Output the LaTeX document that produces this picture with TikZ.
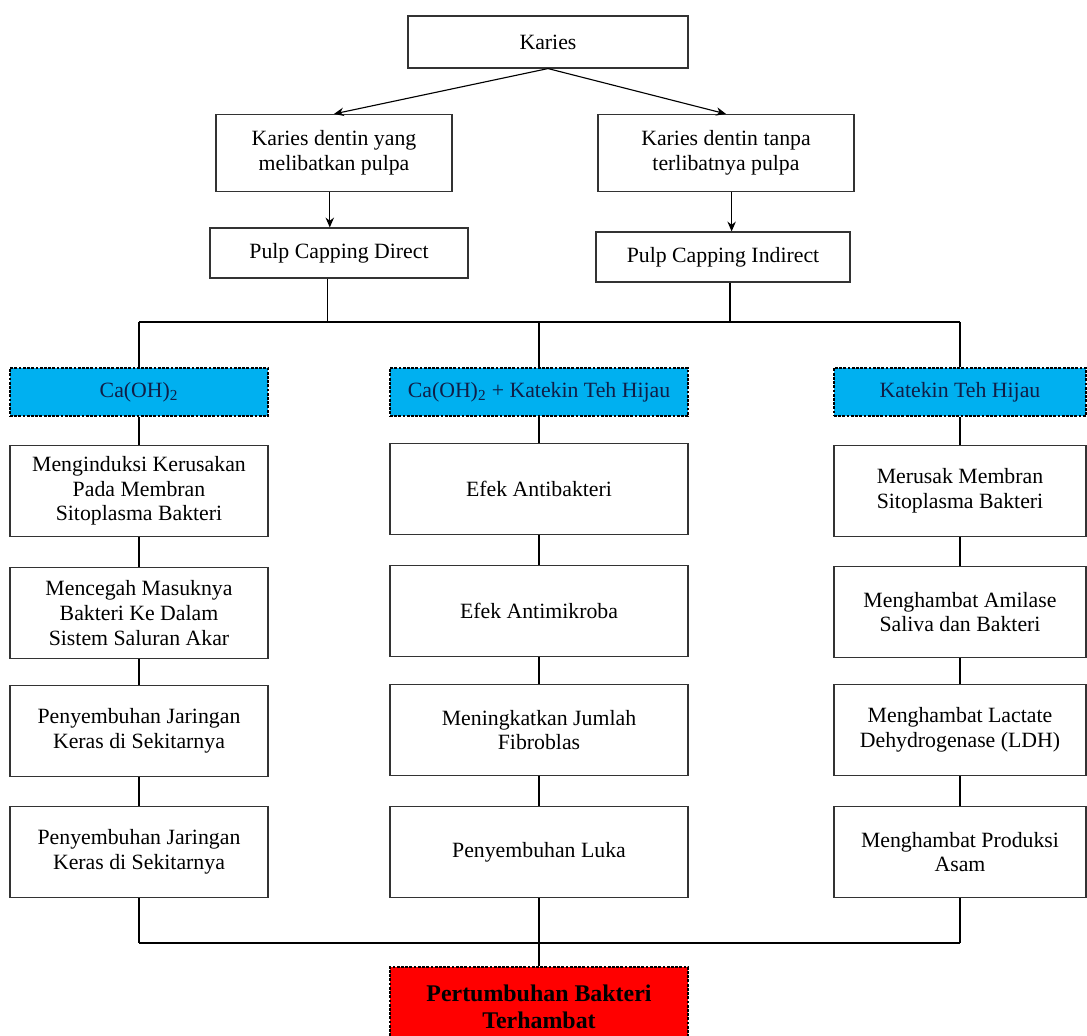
\documentclass[tikz,border=0pt]{standalone}
\usepackage{fontspec}
\setmainfont{Liberation Serif}
\usepackage{xcolor}
\usetikzlibrary{arrows.meta,positioning,calc}

\definecolor{capblue}{RGB}{0,176,240}
\definecolor{inkblue}{RGB}{16,30,70}

\begin{document}
\begin{tikzpicture}[
    x=0.025cm, y=-0.025cm,
    font=\fontsize{15.5}{17.5}\selectfont,
    box/.style={rectangle, draw=black!80, line width=0.8pt, align=center, inner sep=2pt},
    group/.style={box, draw=black, dash pattern=on 2pt off 1pt, fill=capblue, text=inkblue, minimum height=1.2cm},
    result/.style={box, draw=black, dash pattern=on 2pt off 1pt, fill=red, font=\fontsize{17}{19.5}\selectfont\bfseries, minimum width=7.45cm, minimum height=2cm},
    stepL/.style={box, minimum width=6.45cm, minimum height=2.275cm},
    stepM/.style={box, minimum width=7.45cm, minimum height=2.275cm},
    stepR/.style={box, minimum width=6.3cm, minimum height=2.275cm},
    arrow/.style={line width=0.8pt, -{Stealth[length=7pt, width=6pt]}},
    line/.style={line width=0.9pt}
]
\useasboundingbox (0,0) rectangle (1087,1036);

% Top of the tree
\node (karies) [box, minimum width=7cm, minimum height=1.3cm] at (548,42) {Karies};
\node (dentinL) [box, minimum width=5.9cm, minimum height=1.925cm] at (334,153) {Karies dentin yang\\melibatkan pulpa};
\node (dentinR) [box, minimum width=6.4cm, minimum height=1.925cm] at (726,153) {Karies dentin tanpa\\terlibatnya pulpa};
\node (pcd) [box, minimum width=6.45cm, minimum height=1.25cm] at (339,253) {Pulp Capping Direct};
\node (pci) [box, minimum width=6.35cm, minimum height=1.25cm] at (723,257) {Pulp Capping Indirect};

% Material groups
\node (ca) [group, minimum width=6.45cm] at (139,392) {Ca(OH)\textsubscript{2}};
\node (mix) [group, minimum width=7.45cm] at (539,392) {Ca(OH)\textsubscript{2} + Katekin Teh Hijau};
\node (kat) [group, minimum width=6.3cm] at (960,392) {Katekin Teh Hijau};

% Left column
\node (ca1) [stepL] at (139,491) {Menginduksi Kerusakan\\Pada Membran\\Sitoplasma Bakteri};
\node (ca2) [stepL] at (139,613) {Mencegah Masuknya\\Bakteri Ke Dalam\\Sistem Saluran Akar};
\node (ca3) [stepL] at (139,731) {Penyembuhan Jaringan\\Keras di Sekitarnya};
\node (ca4) [stepL] at (139,852) {Penyembuhan Jaringan\\Keras di Sekitarnya};

% Middle column
\node (mix1) [stepM] at (539,489) {Efek Antibakteri};
\node (mix2) [stepM] at (539,611) {Efek Antimikroba};
\node (mix3) [stepM] at (539,730) {Meningkatkan Jumlah\\Fibroblas};
\node (mix4) [stepM] at (539,852) {Penyembuhan Luka};

% Right column
\node (kat1) [stepR] at (960,491) {Merusak Membran\\Sitoplasma Bakteri};
\node (kat2) [stepR] at (960,612) {Menghambat Amilase\\Saliva dan Bakteri};
\node (kat3) [stepR] at (960,730) {Menghambat Lactate\\Dehydrogenase (LDH)};
\node (kat4) [stepR] at (960,852) {Menghambat Produksi\\Asam};

% Outcome
\node (hasil) [result] at (539,1007) {Pertumbuhan Bakteri\\Terhambat};

\coordinate (split) at (539,322);
\coordinate (join) at (539,943);

% Arrows
\draw [arrow] (karies.south) -- (dentinL.north);
\draw [arrow] (karies.south) -- (dentinR.north);
\draw [arrow] ([xshift=-3pt]dentinL.south) -- ([xshift=-3pt]dentinL.south |- pcd.north);
\draw [arrow] ([xshift=4pt]dentinR.south) -- ([xshift=4pt]dentinR.south |- pci.north);

% Branching lines
\draw [line] ([xshift=-8pt]pcd.south) -- ([xshift=-8pt]pcd.south |- split);
\draw [line] ([xshift=5pt]pci.south) -- ([xshift=5pt]pci.south |- split);
\draw [line] (ca.north |- split) -- (kat.north |- split);
\draw [line] (ca.north |- split) -- (ca.north);
\draw [line] (split) -- (mix.north);
\draw [line] (kat.north |- split) -- (kat.north);

% Columns
\foreach \col in {ca,mix,kat} {
  \draw [line] (\col) -- (\col1);
  \draw [line] (\col1) -- (\col2);
  \draw [line] (\col2) -- (\col3);
  \draw [line] (\col3) -- (\col4);
  \draw [line] (\col4.south) -- (\col4.south |- join);
}

% Joining lines
\draw [line] (ca4.south |- join) -- (kat4.south |- join);
\draw [line] (join) -- (hasil.north);

\end{tikzpicture}
\end{document}
